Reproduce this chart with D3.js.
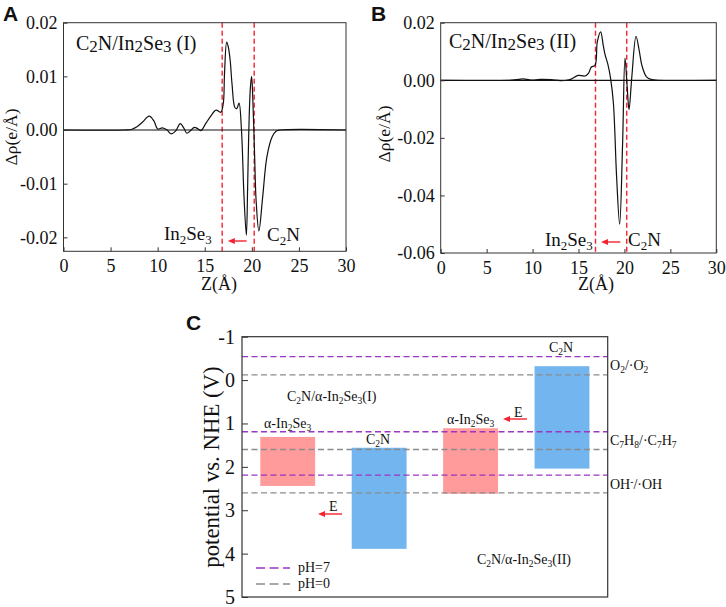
<!DOCTYPE html>
<html>
<head>
<meta charset="utf-8">
<script src="https://cdn.jsdelivr.net/npm/d3@7"></script>
<style>
  html, body { margin: 0; padding: 0; background: #fff; }
  svg { display: block; }
  text { font-family: "Liberation Serif", serif; fill: #111; }
  .letter { font-family: "Liberation Sans", sans-serif; font-weight: bold; font-size: 21px; }
</style>
</head>
<body>
<svg id="chart" width="726" height="607"></svg>
<script>
// panel A, charge density difference
const zA = [0, 6.5, 7.2, 7.8, 8.4, 9.1, 9.6, 10, 10.5, 11, 11.4, 11.9, 12.4, 12.8, 13.1, 13.5, 13.9, 14.3, 14.6, 15.1, 15.6, 16.2, 16.7, 16.97, 17.1, 17.33, 17.5, 17.7, 17.9, 18.2, 18.4, 18.64, 18.9, 19.17, 19.42, 19.55, 19.68, 19.85, 19.98, 20.1, 20.3, 20.45, 20.75, 21.15, 21.6, 22.15, 22.6, 23, 30];
const rhoA = [0, 0, 0.0001, 0.0006, 0.0015, 0.0026, 0.0017, 0.0002, 0.0004, 0, -0.0007, -0.0002, 0.0012, 0.0003, -0.0006, -0.0001, 0.0005, 0.0002, -0.0001, 0.0012, 0.0025, 0.0037, 0.0033, 0.005, 0.0106, 0.0164, 0.0155, 0.013, 0.0085, 0.0042, 0.004, 0.005, 0, -0.0125, -0.0196, -0.011, 0, 0.008, 0.01, 0.006, -0.005, -0.013, -0.0188, -0.0125, -0.005, -0.0013, -0.0002, 0, 0];

// panel B
const zB = [0, 7.5, 8.2, 9, 9.6, 10, 10.8, 12, 13, 13.7, 14.2, 14.95, 15.7, 16.1, 16.4, 16.8, 17.05, 17.41, 17.7, 17.9, 18.2, 18.5, 18.8, 19.15, 19.48, 19.8, 20.06, 20.3, 20.5, 20.8, 21.26, 21.6, 21.9, 22.4, 23, 23.6, 30];
const rhoB = [0, 0, 0.0002, 0.0005, 0.0002, 0.0001, 0.0003, 0.0002, -0.0001, 0, 0.0004, 0.0017, 0.0015, 0.0025, 0.0046, 0.0052, 0.0134, 0.0168, 0.012, 0.0088, 0.0055, 0.0005, -0.008, -0.0337, -0.05, -0.022, 0.0077, -0.0023, -0.0102, 0.001, 0.0153, 0.0105, 0.0052, 0.0012, 0.0002, 0, 0];

const layerEdges = [16.85, 20.25];

// panel C, band edges
const materials = ["I-In2Se3", "I-C2N", "II-In2Se3", "II-C2N"];
const bandTop = [1.31, 1.56, 1.11, -0.32];
const bandBottom = [2.44, 3.89, 2.62, 2.04];
const bandKind = ["In2Se3", "C2N", "In2Se3", "C2N"];
const levelsPH7 = [-0.54, 1.19, 2.19];
const levelsPH0 = [-0.12, 1.6, 2.6];
const potentialTicks = [-1, 0, 1, 2, 3, 4, 5];

const RED = "#f5222f", PURPLE = "#9a35c4", GRAY = "#8c8c8c", FRAME = "#333";
const fillFor = { In2Se3: "#ff9b9b", C2N: "#72b5ef" };
const hyphen = f => d => f(d).replace("\u2212", "-");

const svg = d3.select("#chart");

// text with sub/superscripts: parts are plain strings or [string, "sub"|"sup"|"big"]
function rich(sel, parts, size) {
  let carry = 0;
  parts.forEach(p => {
    const kind = typeof p === "string" ? null : p[1];
    const shift = kind === "sub" ? 0.22 : kind === "sup" ? -0.3 : kind === "big" ? 0.1 : 0;
    const scale = kind === "big" ? 0.85 : kind ? 0.68 : 1;
    sel.append("tspan")
      .attr("dy", ((shift - carry) * size).toFixed(1))
      .attr("font-size", size * scale)
      .text(kind ? p[0] : p);
    carry = shift;
  });
  return sel;
}

function label(x, y, parts, size, anchor) {
  const t = svg.append("text").attr("x", x).attr("y", y).attr("font-size", size).attr("text-anchor", anchor || "start");
  return rich(t, parts, size);
}

function arrow(x1, x2, y, headLen, headW) {
  svg.append("line").attr("x1", x1).attr("x2", x2 + headLen * 0.8).attr("y1", y).attr("y2", y)
    .attr("stroke", RED).attr("stroke-width", 1.4);
  svg.append("path")
    .attr("d", d3.line()([[x2, y], [x2 + headLen, y - headW], [x2 + headLen, y + headW]]) + "Z")
    .attr("fill", RED);
}

function chargePanel(opts) {
  const x = d3.scaleLinear().domain([0, 30]).range(opts.xr);
  const y = d3.scaleLinear().domain(opts.yd).range(opts.yr);
  const g = svg.append("g");

  layerEdges.forEach(z => {
    g.append("line").attr("x1", x(z)).attr("x2", x(z)).attr("y1", opts.yr[1]).attr("y2", opts.yr[0])
      .attr("stroke", RED).attr("stroke-width", 1.4).attr("stroke-dasharray", "5,3");
  });

  g.append("line").attr("x1", x(0)).attr("x2", x(30)).attr("y1", y(0)).attr("y2", y(0))
    .attr("stroke", "#111").attr("stroke-width", 1.2);

  g.append("path")
    .datum(d3.zip(opts.z, opts.rho))
    .attr("fill", "none").attr("stroke", "#111").attr("stroke-width", 1.2)
    .attr("d", d3.line().x(d => x(d[0])).y(d => y(d[1])).curve(d3.curveCatmullRom.alpha(0.5)));

  const bottom = g.append("g").attr("transform", `translate(0,${opts.yr[0]})`)
    .call(d3.axisBottom(x).tickValues([0, 5, 10, 15, 20, 25, 30]).tickSize(-4).tickPadding(8).tickFormat(d3.format("d")));
  const left = g.append("g").attr("transform", `translate(${opts.xr[0]},0)`)
    .call(d3.axisLeft(y).tickValues(opts.yt).tickSize(-4).tickPadding(6).tickFormat(hyphen(d3.format(".2f"))));
  [bottom, left].forEach(a => {
    a.selectAll("text").attr("font-size", 18).attr("font-family", null).style("font-family", '"Liberation Serif", serif').attr("fill", "#111");
    a.selectAll("line").attr("stroke", FRAME);
    a.select(".domain").remove();
  });

  g.append("rect").attr("x", opts.xr[0]).attr("y", opts.yr[1])
    .attr("width", opts.xr[1] - opts.xr[0]).attr("height", opts.yr[0] - opts.yr[1])
    .attr("fill", "none").attr("stroke", FRAME).attr("stroke-width", 1);

  return { x, y };
}

// A
const a = chargePanel({ xr: [63.5, 346], yd: [-0.0226, 0.02], yr: [251.3, 22.7], yt: [-0.02, -0.01, 0, 0.01, 0.02], z: zA, rho: rhoA });
svg.append("text").attr("class", "letter").attr("x", 3).attr("y", 21).text("A");
label(76, 50, ["C", ["2", "big"], "N/In", ["2", "big"], "Se", ["3", "big"], " (I)"], 20);
label(164, 240, ["In", ["2", "sub"], "Se", ["3", "sub"]], 19);
label(267, 241, ["C", ["2", "sub"], "N"], 19);
arrow(a.x(19.45), a.x(17.45), 241, 7, 3);
label(219, 290, ["Z(Å)"], 18, "middle");
svg.append("text").attr("transform", "translate(17,137) rotate(-90)").attr("text-anchor", "middle").attr("font-size", 17.5).text("Δρ(e/Å)");

// B
const b = chargePanel({ xr: [440.7, 716.3], yd: [-0.06, 0.02], yr: [253, 22.7], yt: [-0.06, -0.04, -0.02, 0, 0.02], z: zB, rho: rhoB });
svg.append("text").attr("class", "letter").attr("x", 371).attr("y", 21).text("B");
label(449, 48, ["C", ["2", "big"], "N/In", ["2", "big"], "Se", ["3", "big"], " (II)"], 20);
label(545, 246, ["In", ["2", "sub"], "Se", ["3", "sub"]], 19);
label(628, 246, ["C", ["2", "sub"], "N"], 19);
arrow(b.x(19.55), b.x(17.45), 242, 7, 3);
label(596, 290, ["Z(Å)"], 18, "middle");
svg.append("text").attr("transform", "translate(390,134) rotate(-90)").attr("text-anchor", "middle").attr("font-size", 17.5).text("Δρ(e/Å)");

// C
const bx = d3.scaleBand().domain(materials).range([242, 607.7]).paddingInner(0.4).paddingOuter(0.2);
const py = d3.scaleLinear().domain([-1, 5]).range([336.7, 597]);

svg.append("g").selectAll("rect").data(materials).join("rect")
  .attr("x", d => bx(d)).attr("width", bx.bandwidth())
  .attr("y", (d, i) => py(bandTop[i]))
  .attr("height", (d, i) => py(bandBottom[i]) - py(bandTop[i]))
  .attr("fill", (d, i) => fillFor[bandKind[i]]);

function levelLines(levels, color) {
  svg.append("g").selectAll("line").data(levels).join("line")
    .attr("x1", 242).attr("x2", 607.7)
    .attr("y1", d => py(d)).attr("y2", d => py(d))
    .attr("stroke", color).attr("stroke-width", 1.4).attr("stroke-dasharray", "6,3.5");
}
levelLines(levelsPH0, GRAY);
levelLines(levelsPH7, PURPLE);

const cAxis = svg.append("g").attr("transform", "translate(242,0)")
  .call(d3.axisLeft(py).tickValues(potentialTicks).tickSize(-6).tickPadding(7).tickFormat(hyphen(d3.format("d"))));
cAxis.selectAll("text").attr("font-size", 20).style("font-family", '"Liberation Serif", serif').attr("fill", "#111");
cAxis.selectAll("line").attr("stroke", FRAME);
cAxis.select(".domain").remove();
svg.append("rect").attr("x", 242).attr("y", 336.7).attr("width", 365.7).attr("height", 260.3)
  .attr("fill", "none").attr("stroke", FRAME).attr("stroke-width", 1.2);

svg.append("text").attr("class", "letter").attr("x", 186).attr("y", 330).text("C");
svg.append("text").attr("transform", "translate(219,467) rotate(-90)").attr("text-anchor", "middle").attr("font-size", 22.8).text("potential vs. NHE (V)");

label(287, 401, ["C", ["2", "sub"], "N/α-In", ["2", "sub"], "Se", ["3", "sub"], "(I)"], 14);
label(264, 428, ["α-In", ["2", "sub"], "Se", ["3", "sub"]], 14);
label(366, 444, ["C", ["2", "sub"], "N"], 14);
label(447, 424, ["α-In", ["2", "sub"], "Se", ["3", "sub"]], 14);
label(549, 352, ["C", ["2", "sub"], "N"], 14);
label(477, 564, ["C", ["2", "sub"], "N/α-In", ["2", "sub"], "Se", ["3", "sub"], "(II)"], 14);
label(610, 370, ["O", ["2", "sub"], "/·O", ["2", "sub"]], 14);
label(642, 364, ["-"], 9);
label(610, 445, ["C", ["7", "sub"], "H", ["8", "sub"], "/·C", ["7", "sub"], "H", ["7", "sub"]], 14);
label(610, 489, ["OH", ["-", "sup"], "/·OH"], 14);
label(329, 511, ["E"], 14);
label(514, 417, ["E"], 14);
arrow(342, 318, 514, 7, 3);
arrow(527, 503, 419, 7, 3);

[[PURPLE, "pH=7", 568], [GRAY, "pH=0", 584]].forEach(row => {
  svg.append("line").attr("x1", 256).attr("x2", 290).attr("y1", row[2]).attr("y2", row[2])
    .attr("stroke", row[0]).attr("stroke-width", 1.4).attr("stroke-dasharray", "9,4.5");
  label(298, row[2] + 4, [row[1]], 14);
});
</script>
</body>
</html>
